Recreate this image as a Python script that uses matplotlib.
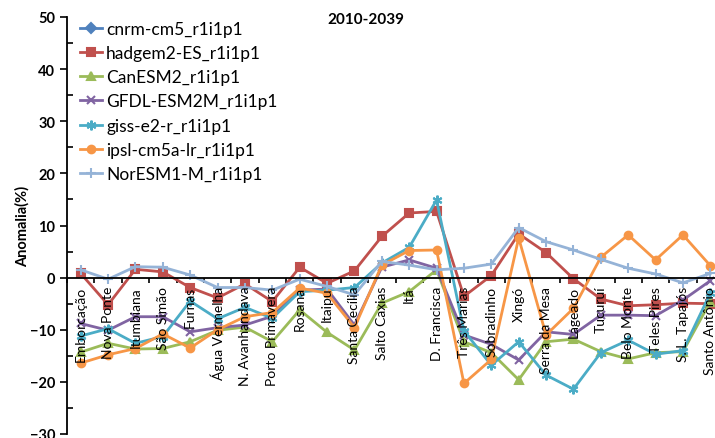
import numpy as np
import matplotlib
matplotlib.use("Agg")
import matplotlib.pyplot as plt
from matplotlib.ticker import MultipleLocator, FixedLocator

plt.rcParams['font.family'] = ['Lato', 'DejaVu Sans']

usinas = ["Emborcação", "Nova Ponte", "Itumbiana", "São Simão", "Furnas",
          "Água Vermelha", "N. Avanhandava", "Porto Primavera", "Rosana", "Itaipu",
          "Santa Cecília", "Salto Caxias", "Itá", "D. Francisca", "Três Marias",
          "Sobradinho", "Xingó", "Serra da Mesa", "Lageado", "Tucuruí",
          "Belo Monte", "Teles Pires", "S. L. Tapajós", "Santo Antônio"]

# cnrm-cm5 nao aparece no grafico (fica escondido)
cnrm = [np.nan] * 24
hadgem = [0.8, -5.2, 1.6, 1.1, -1.9, -3.9, -1.2, -4.6, 2.0, -1.1, 1.3, 7.9,
          12.4, 12.7, -3.6, 0.4, 8.4, 4.8, -0.2, -4.1, -5.4, -5.2, -4.9, -5.0]
canesm = [-14.3, -12.6, -13.7, -13.6, -12.3, -10.1, -9.5, -12.3, -6.2, -10.5,
          -13.9, -4.9, -2.7, 1.5, -12.3, -14.4, -19.6, -12.3, -11.8, -14.2,
          -15.6, -14.4, -14.2, -4.6]
gfdl = [-8.8, -10.1, -7.5, -7.5, -10.4, -9.6, -9.1, -7.4, -2.4, -2.2, -9.1, 2.0,
        3.4, 1.8, -11.0, -12.8, -15.8, -10.4, -10.9, -7.2, -7.2, -7.3, -4.3, -0.6]
giss = [-11.2, -9.8, -12.6, -11.3, -4.5, -7.9, -5.7, -7.8, -2.7, -2.4, -1.9, 2.8,
        5.8, 14.9, -10.2, -16.8, -12.3, -18.7, -21.4, -14.4, -12.0, -14.7,
        -14.0, -3.0]
ipsl = [-16.4, -14.8, -13.6, -10.8, -13.5, -10.0, -7.5, -6.7, -2.0, -3.0, -9.6,
        2.4, 5.2, 5.3, -20.3, -15.7, 7.6, -11.0, -5.9, 3.9, 8.2, 3.4, 8.2, 2.3]
noresm = [1.5, -0.3, 2.1, 2.0, 0.5, -1.9, -1.9, -2.4, -0.3, -1.7, -3.3, 3.1,
          2.4, 1.5, 1.8, 2.6, 9.6, 6.9, 5.3, 3.5, 1.8, 0.7, -1.0, 0.8]

series = [
    ("cnrm-cm5_r1i1p1", cnrm, "#4F81BD", "D", 5),
    ("hadgem2-ES_r1i1p1", hadgem, "#C0504D", "s", 5.5),
    ("CanESM2_r1i1p1", canesm, "#9BBB59", "^", 6),
    ("GFDL-ESM2M_r1i1p1", gfdl, "#8064A2", "x", 6),
    ("giss-e2-r_r1i1p1", giss, "#4BACC6", (6, 2, 0), 7),
    ("ipsl-cm5a-lr_r1i1p1", ipsl, "#F79646", "o", 5.5),
    ("NorESM1-M_r1i1p1", noresm, "#95B3D7", "+", 7),
]

fig = plt.figure(figsize=(7.15, 4.39), dpi=100)
ax = fig.add_axes([67 / 715, 4 / 439, 657 / 715, 417 / 439])

x = np.arange(len(usinas))
for nome, vals, cor, mk, ms in series:
    ax.plot(x, vals, color=cor, marker=mk, markersize=ms, linewidth=2,
            markeredgewidth=1.5, label=nome)

ax.set_xlim(-0.5, 23.5)
ax.set_ylim(-30, 50)
ax.yaxis.set_major_locator(MultipleLocator(10))
ax.yaxis.set_minor_locator(MultipleLocator(5))
ax.tick_params(axis='y', which='major', direction='out', length=5, width=1.2,
               labelsize=10.5)
ax.tick_params(axis='y', which='minor', direction='in', length=4, width=1.2)
for t in ax.get_yticklabels():
    t.set_fontweight('bold')

ax.spines['top'].set_visible(False)
ax.spines['right'].set_visible(False)
ax.spines['bottom'].set_position(('data', 0))
ax.spines['left'].set_linewidth(1.3)
ax.spines['bottom'].set_linewidth(1.3)

# nomes das usinas pendurados abaixo da linha do zero
ax.set_xticks(x)
ax.set_xticklabels([])
ax.tick_params(axis='x', which='major', length=0)
ax.xaxis.set_minor_locator(FixedLocator(np.arange(-0.5, 24, 1)))
ax.tick_params(axis='x', which='minor', direction='out', length=3.5, width=1.2)
for i, nome in enumerate(usinas):
    ax.annotate(nome, xy=(i, 0), xytext=(0, -6), textcoords='offset points',
                rotation=90, ha='center', va='top', fontsize=10,
                annotation_clip=False)

ax.set_ylabel("Anomalia(%)", fontsize=10.5, fontweight='bold', labelpad=0)
fig.text(366 / 715, 1 - 20 / 439, "2010-2039", fontsize=11, fontweight='bold',
         ha='center', va='center')

ax.legend(loc='upper left', bbox_to_anchor=(80 / 715, 1 - 22 / 439),
          bbox_transform=fig.transFigure, frameon=False, fontsize=12.5,
          handlelength=1.25, handletextpad=0.25, labelspacing=0.47,
          borderpad=0, borderaxespad=0)

fig.savefig("out.png", dpi=100)
